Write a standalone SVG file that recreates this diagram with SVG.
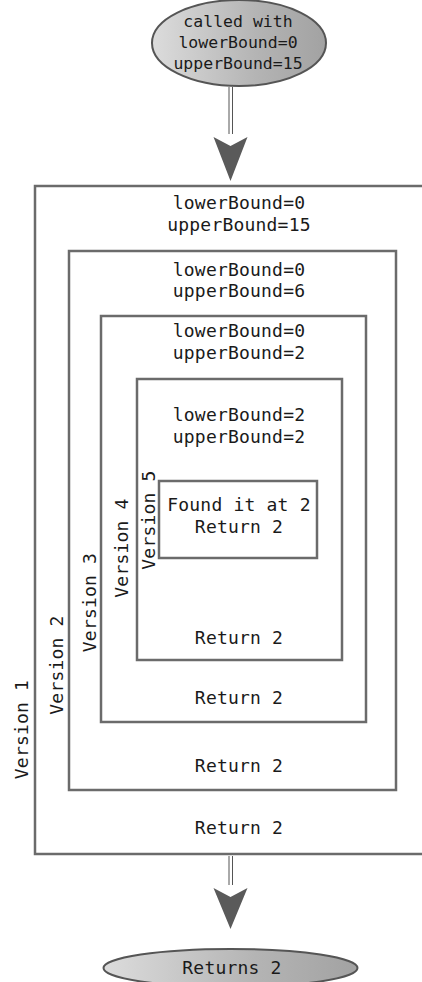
<svg xmlns="http://www.w3.org/2000/svg" width="422" height="982" viewBox="0 0 422 982">
<defs>
<linearGradient id="g" x1="0" y1="0" x2="1" y2="0">
<stop offset="0" stop-color="#dcdcdc"/>
<stop offset="0.6" stop-color="#b4b4b4"/>
<stop offset="1" stop-color="#a2a2a2"/>
</linearGradient>
<style>
.t{font-family:"DejaVu Sans Mono","Liberation Mono",monospace;font-size:18px;letter-spacing:0.2px;fill:#1a1a1a;text-anchor:middle}
.s{font-size:16.5px;letter-spacing:0}
.box{fill:none;stroke:#6b6b6b;stroke-width:2.5}
.ell{fill:url(#g);stroke:#555;stroke-width:2}
.ln{stroke:#555;stroke-width:1}
.head{fill:#5a5a5a}
</style>
</defs>
<rect width="422" height="982" fill="#fff"/>
<g id="start">
<ellipse class="ell" cx="239" cy="43" rx="87" ry="43"/>
<text class="t s" x="238" y="27">called with</text>
<text class="t s" x="238" y="48">lowerBound=0</text>
<text class="t s" x="238" y="69">upperBound=15</text>
</g>
<g id="version1">
<rect class="box" x="35" y="186" width="400" height="668"/>
<text class="t" x="239" y="209">lowerBound=0</text>
<text class="t" x="239" y="231">upperBound=15</text>
<text class="t" x="239" y="834">Return 2</text>
<text class="t" transform="translate(28 729.5) rotate(-90)" x="0" y="0">Version 1</text>
</g>
<g id="version2">
<rect class="box" x="69" y="251" width="327" height="539"/>
<text class="t" x="239" y="276">lowerBound=0</text>
<text class="t" x="239" y="297">upperBound=6</text>
<text class="t" x="239" y="772">Return 2</text>
<text class="t" transform="translate(63 665) rotate(-90)" x="0" y="0">Version 2</text>
</g>
<g id="version3">
<rect class="box" x="101" y="316" width="265" height="406"/>
<text class="t" x="239" y="337">lowerBound=0</text>
<text class="t" x="239" y="359">upperBound=2</text>
<text class="t" x="239" y="704">Return 2</text>
<text class="t" transform="translate(95.5 602.5) rotate(-90)" x="0" y="0">Version 3</text>
</g>
<g id="version4">
<rect class="box" x="137" y="379" width="205" height="281"/>
<text class="t" x="239" y="421">lowerBound=2</text>
<text class="t" x="239" y="443">upperBound=2</text>
<text class="t" x="239" y="644">Return 2</text>
<text class="t" transform="translate(127.5 548) rotate(-90)" x="0" y="0">Version 4</text>
</g>
<g id="version5">
<rect class="box" x="159" y="481" width="158" height="77"/>
<text class="t" x="239" y="511">Found it at 2</text>
<text class="t" x="239" y="533">Return 2</text>
<text class="t" transform="translate(154.5 520) rotate(-90)" x="0" y="0">Version 5</text>
</g>
<g id="end">
<ellipse class="ell" cx="230.5" cy="968" rx="127" ry="19"/>
<text class="t" x="232" y="974">Returns 2</text>
</g>
<g id="connectors">
<line class="ln" x1="229" y1="87" x2="229" y2="134"/>
<line class="ln" x1="232.5" y1="87" x2="232.5" y2="134"/>
<polygon class="head" points="213.5,137 230.5,146 247.5,137 230.5,181"/>
<line class="ln" x1="229" y1="856" x2="229" y2="885"/>
<line class="ln" x1="232.5" y1="856" x2="232.5" y2="885"/>
<polygon class="head" points="213.5,888 230.5,897 247.5,888 230.5,929"/>
</g>
</svg>
